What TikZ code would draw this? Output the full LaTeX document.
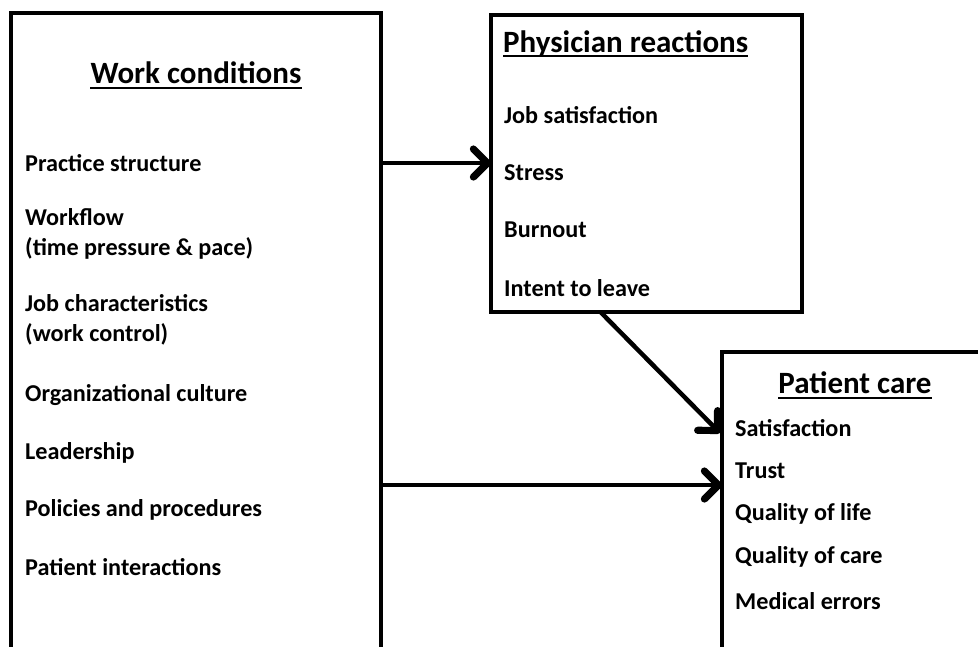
\documentclass[tikz,border=0pt]{standalone}
\usepackage{fontspec}
\setmainfont{Carlito}
\usetikzlibrary{arrows.meta,calc}
\tikzset{
  boxnode/.style={draw=black,line width=3.5pt,fill=white,inner sep=0pt,outer sep=0pt},
  ttl/.style={font=\fontsize{31}{36}\selectfont\bfseries,inner sep=0pt},
  itm/.style={font=\fontsize{24.2}{28}\selectfont\bfseries,inner sep=0pt,anchor=west,align=left},
  arr/.style={line width=4.5pt,-{Straight Barb[length=14pt,width=28pt,line width=0pt 1.6,round]}},
  ul/.style={line width=2pt},
}
\begin{document}
\begin{tikzpicture}[x=1pt,y=-1pt]
\useasboundingbox (0,0) rectangle (978,646);
\clip (0,0) rectangle (978,646);
% boxes
\node[boxnode,minimum width=370pt,minimum height=680pt,anchor=north west] (wc) at (11,13) {};
\node[boxnode,minimum width=311pt,minimum height=297pt,anchor=north west] (pr) at (491,15) {};
\node[boxnode,minimum width=300pt,minimum height=340pt,anchor=north west] (pc) at (722,352) {};
% work conditions
\node[ttl] (wct) at (196,73) {Work conditions};
\draw[ul] ($(wct.base west)+(0,4)$) -- ($(wct.base east)+(0,4)$);
\node[itm] (w1) at (25,163) {Practice structure};
\node[itm] (w2) at (25,234) {Workflow\\[2pt](time pressure \& pace)};
\node[itm] (w3) at (25,320) {Job characteristics\\[2pt](work control)};
\node[itm] (w4) at (25,395) {Organizational culture};
\node[itm] (w5) at (25,453) {Leadership};
\node[itm] (w6) at (25,510) {Policies and procedures};
\node[itm] (w7) at (25,567) {Patient interactions};
% physician reactions
\node[ttl,anchor=west] (prt) at (503,44) {Physician reactions};
\draw[ul] ($(prt.base west)+(0,4)$) -- ($(prt.base east)+(0,4)$);
\node[itm] (p1) at (504,115) {Job satisfaction};
\node[itm] (p2) at (504,173) {Stress};
\node[itm] (p3) at (504,230) {Burnout};
\node[itm] (p4) at (504,288) {Intent to leave};
% patient care
\node[ttl] (pct) at (855,383) {Patient care};
\draw[ul] ($(pct.base west)+(0,4)$) -- ($(pct.base east)+(0,4)$);
\node[itm] (c1) at (735,428) {Satisfaction};
\node[itm] (c2) at (735,471) {Trust};
\node[itm] (c3) at (735,514) {Quality of life};
\node[itm] (c4) at (735,557) {Quality of care};
\node[itm] (c5) at (735,601) {Medical errors};
% connectors
\coordinate (a1y) at (0,163);
\coordinate (a2y) at (0,485);
\coordinate (a3y) at (0,433);
\draw[arr] (wc.east |- a1y) -- (pr.west |- a1y);
\draw[arr] (wc.east |- a2y) -- (pc.west |- a2y);
\draw[arr] ($(pr.south)+(-46,0)$) -- ($(pc.west |- a3y)+(-2,0)$);
\end{tikzpicture}
\end{document}
